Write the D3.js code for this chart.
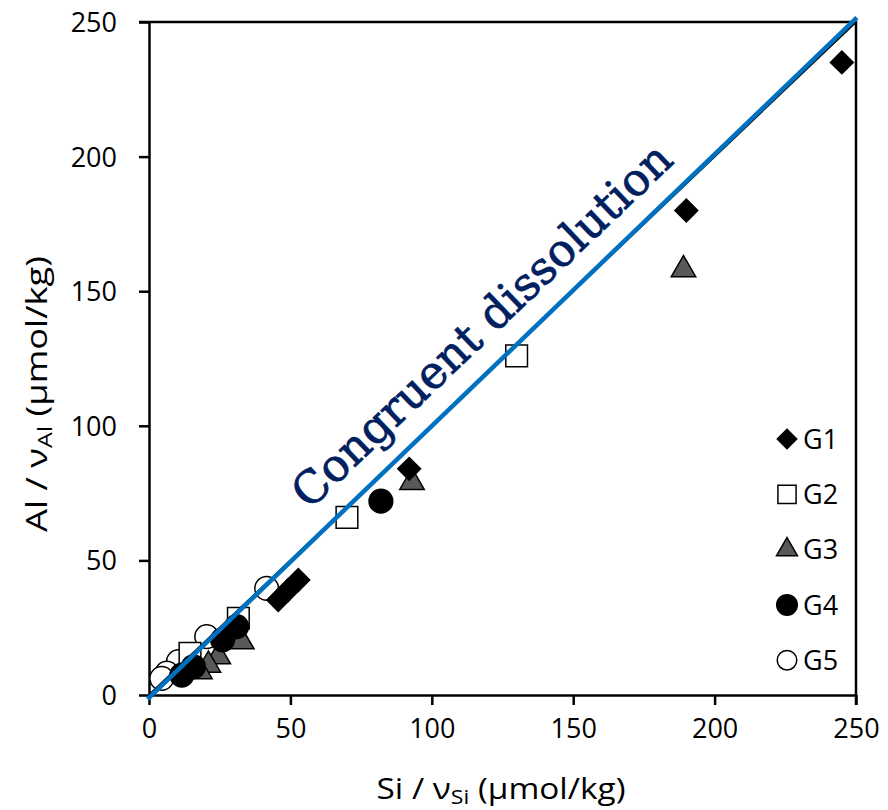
<!DOCTYPE html>
<html>
<head>
<meta charset="utf-8">
<script src="https://cdn.jsdelivr.net/npm/d3@7"></script>
<style>
  body { margin: 0; background: #fff; }
</style>
</head>
<body>
<script>
// series values
let groups = ['G1', 'G2', 'G3', 'G4', 'G5'];
let g1Si = [245, 190, 92, 52.8, 49.2, 45.7];
let g1Al = [235, 180, 84, 42.7, 39, 35.3];
let g2Si = [130, 70, 31.6, 14.5];
let g2Al = [126, 66, 28.5, 15.5];
let g3Si = [189, 93, 32.8, 24.5, 21, 18];
let g3Al = [158, 79, 19.8, 14.2, 11.1, 8.7];
let g4Si = [82, 31, 26, 15.7, 11.6];
let g4Al = [72, 25.4, 20.5, 10.5, 7.4];
let g5Si = [41.6, 20.4, 10.4, 6.3, 4.5];
let g5Al = [39.6, 21.7, 12.4, 8.1, 6.2];
let ticks = [0, 50, 100, 150, 200, 250];
let lineLabel = 'Congruent dissolution';

let margin = { top: 22, right: 32, bottom: 115, left: 149 };
let width = 888 - margin.left - margin.right;
let height = 810 - margin.top - margin.bottom;

let svg = d3.select('body').append('svg')
    .attr('width', 888)
    .attr('height', 810)
    .attr('font-family', '"Open Sans", sans-serif')
  .append('g')
    .attr('transform', 'translate(' + margin.left + ',' + margin.top + ')');

let x = d3.scaleLinear().domain([0, 250]).range([0, width]);
let y = d3.scaleLinear().domain([0, 250]).range([height, 0]);

function zip(xs, ys) {
  return xs.map(function(v, i) { return { si: v, al: ys[i] }; });
}

// diamonds are squares turned by 45 degrees
let series = {
  G1: { data: zip(g1Si, g1Al), shape: d3.symbolSquare, rot: 45, fill: '#000', size: 260, lsize: 190 },
  G2: { data: zip(g2Si, g2Al), shape: d3.symbolSquare, rot: 0, fill: '#fff', size: 470, lsize: 330 },
  G3: { data: zip(g3Si, g3Al), shape: d3.symbolTriangle, rot: 0, fill: '#595959', size: 260, lsize: 190 },
  G4: { data: zip(g4Si, g4Al), shape: d3.symbolCircle, rot: 0, fill: '#000', size: 440, lsize: 330 },
  G5: { data: zip(g5Si, g5Al), shape: d3.symbolCircle, rot: 0, fill: '#fff', size: 440, lsize: 300 }
};

// top and right border
svg.append('path')
    .attr('d', 'M' + (-10) + ',0H' + width + 'V' + (height + 10))
    .attr('fill', 'none')
    .attr('stroke', '#000')
    .attr('stroke-width', 2.5);

// axes
let xAxis = d3.axisBottom(x).tickValues(ticks).tickSize(10).tickPadding(14).tickSizeOuter(0);
let yAxis = d3.axisLeft(y).tickValues(ticks).tickSize(10).tickPadding(22).tickSizeOuter(0);

let gx = svg.append('g')
    .attr('transform', 'translate(0,' + height + ')')
    .call(xAxis);
let gy = svg.append('g').call(yAxis);

[gx, gy].forEach(function(g) {
  g.attr('font-family', null).attr('font-size', null);
  g.selectAll('path, line').attr('stroke', '#000').attr('stroke-width', 2.5);
  g.selectAll('text').attr('font-size', 27).attr('fill', '#000');
});
gy.selectAll('text').attr('dy', '0.35em');

// markers (drawing order so overlaps look like the picture)
['G5', 'G2', 'G3', 'G4', 'G1'].forEach(function(k) {
  let s = series[k];
  svg.append('g').selectAll('path')
      .data(s.data)
    .enter().append('path')
      .attr('transform', function(d) {
        return 'translate(' + x(d.si) + ',' + y(d.al) + ') rotate(' + s.rot + ')';
      })
      .attr('d', d3.symbol().type(s.shape).size(s.size))
      .attr('fill', s.fill)
      .attr('stroke', '#000')
      .attr('stroke-width', 1.5);
});

// 1:1 lines
svg.append('line')
    .attr('x1', x(0)).attr('y1', y(0))
    .attr('x2', x(250)).attr('y2', y(250))
    .attr('stroke', '#000')
    .attr('stroke-width', 2);
svg.append('line')
    .attr('x1', x(-0.5)).attr('y1', y(-1.5))
    .attr('x2', x(250.3)).attr('y2', y(251.6))
    .attr('stroke', '#0070c0')
    .attr('stroke-width', 4.5);

// rotated label along the line
let angle = Math.atan2(y(0) - y(250), x(250) - x(0)) * 180 / Math.PI;
svg.append('g')
    .attr('transform', 'translate(' + x(127) + ',' + y(127) + ') rotate(' + (-angle) + ')')
  .append('text')
    .attr('y', -23)
    .attr('text-anchor', 'middle')
    .attr('font-family', '"DejaVu Serif", serif')
    .attr('font-size', 45)
    .attr('fill', '#002060')
    .attr('stroke', '#002060')
    .attr('stroke-width', 0.8)
    .attr('textLength', 505)
    .attr('lengthAdjust', 'spacingAndGlyphs')
    .text(lineLabel);

// legend
let legend = svg.append('g').attr('transform', 'translate(' + (787 - margin.left) + ',' + (439 - margin.top) + ')');
groups.forEach(function(k, i) {
  let s = series[k];
  let row = legend.append('g').attr('transform', 'translate(0,' + (i * 55.3) + ')');
  row.append('path')
      .attr('transform', 'rotate(' + s.rot + ')')
      .attr('d', d3.symbol().type(s.shape).size(s.lsize))
      .attr('fill', s.fill)
      .attr('stroke', '#000')
      .attr('stroke-width', 1.5);
  row.append('text')
      .attr('x', 16)
      .attr('dy', '0.36em')
      .attr('font-size', 27)
      .text(k);
});

// axis titles
let xt = svg.append('text')
    .attr('x', 501 - margin.left)
    .attr('y', height + 104)
    .attr('text-anchor', 'middle')
    .attr('font-size', 29)
    .attr('textLength', 249)
    .attr('lengthAdjust', 'spacingAndGlyphs');
xt.append('tspan').text('Si / ν');
xt.append('tspan').attr('font-size', 20).attr('baseline-shift', '-25%').text('Si');
xt.append('tspan').text(' (µmol/kg)');

let yt = svg.append('text')
    .attr('transform', 'translate(' + (47 - margin.left) + ',' + (394 - margin.top) + ') rotate(-90)')
    .attr('text-anchor', 'middle')
    .attr('font-size', 29)
    .attr('textLength', 276)
    .attr('lengthAdjust', 'spacingAndGlyphs');
yt.append('tspan').text('Al / ν');
yt.append('tspan').attr('font-size', 20).attr('baseline-shift', '-25%').text('Al');
yt.append('tspan').text(' (µmol/kg)');
</script>
</body>
</html>
